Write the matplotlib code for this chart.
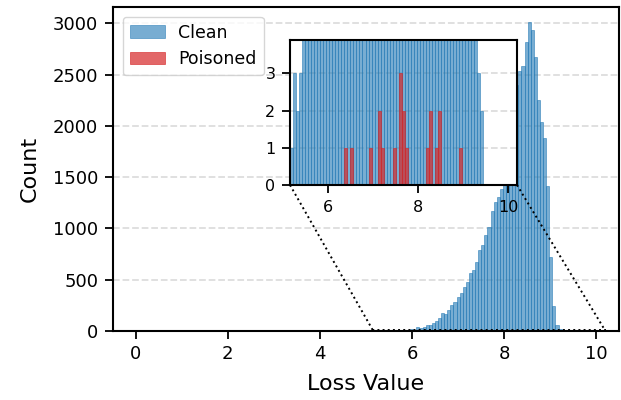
import numpy as np
import matplotlib
matplotlib.use("Agg")
from matplotlib import pyplot as plt
from mpl_toolkits.axes_grid1.inset_locator import mark_inset

# histogram bins (loss value)
bin_start = 5.157
bin_width = 0.0671
n_bins = 64

clean_counts = [1, 3, 2, 3, 5, 4, 6, 5, 8, 7,
                9, 12, 13, 10, 36, 26, 39, 55, 56, 78,
                98, 127, 176, 167, 206, 255, 284, 333, 372, 431,
                480, 568, 598, 667, 784, 836, 931, 1013, 1167, 1258,
                1307, 1382, 1480, 1700, 1950, 2150, 2400, 2540, 2588, 2814,
                3010, 2935, 2676, 2255, 2033, 1882, 1412, 725, 239, 59,
                15, 6, 3, 2]

# poisoned samples: bin index -> count
poison_bins = [18, 20, 26, 29, 30, 34, 36, 37, 38, 45, 46, 48, 49, 56]
poison_counts = [1, 1, 1, 2, 1, 1, 3, 2, 1, 1, 2, 1, 2, 1]

edges = bin_start + bin_width * np.arange(n_bins)
poison_edges = bin_start + bin_width * np.array(poison_bins)

blue = "#1f77b4"
red = "#d62728"

fig = plt.figure(figsize=(6.21, 4.0), dpi=100)
ax = fig.add_axes([0.1815, 0.173, 0.8155, 0.8095])


def draw_hist(a, lw=0.6):
    h1 = a.bar(edges, clean_counts, width=bin_width, align="edge",
               color=blue, alpha=0.6, edgecolor=blue, linewidth=lw, label="Clean")
    h2 = a.bar(poison_edges, poison_counts, width=bin_width, align="edge",
               color=red, alpha=0.7, edgecolor=red, linewidth=lw, label="Poisoned")
    return h1, h2


h_clean, h_poison = draw_hist(ax)
ax.set_xlim(-0.5, 10.5)
ax.set_ylim(0, 3160)
ax.set_xticks([0, 2, 4, 6, 8, 10])
ax.set_yticks([0, 500, 1000, 1500, 2000, 2500, 3000])
ax.tick_params(labelsize=13, width=1.3, length=6, pad=4.5)
ax.set_xlabel("Loss Value", fontsize=16, labelpad=8)
ax.set_ylabel("Count", fontsize=16, labelpad=9)
ax.yaxis.grid(True, linestyle="--", color="#dddddd", linewidth=1.3)
ax.set_axisbelow(True)
for s in ax.spines.values():
    s.set_linewidth(1.5)

# zoomed inset on the low counts
axins = fig.add_axes([0.467, 0.5375, 0.3655, 0.3625])
draw_hist(axins)
axins.set_xlim(5.157, 10.2)
axins.set_ylim(0, 3.9)
axins.set_xticks([6, 8, 10])
axins.set_yticks([0, 1, 2, 3])
axins.tick_params(labelsize=11.5, width=1.3, length=6, pad=4.5)
axins.yaxis.grid(True, linestyle="--", color="#dddddd", linewidth=1.3)
axins.set_axisbelow(True)
for s in axins.spines.values():
    s.set_linewidth(1.5)

mark_inset(ax, axins, loc1=3, loc2=4, fc="none", ec="black", ls=":", lw=1.4)

# legend on top of the inset
axins.legend([h_clean, h_poison], ["Clean", "Poisoned"], loc="upper left",
             bbox_to_anchor=(0.003, 0.997), bbox_transform=ax.transAxes,
             fontsize=12.5, handlelength=2.0)

fig.savefig("out.png", dpi=100)
